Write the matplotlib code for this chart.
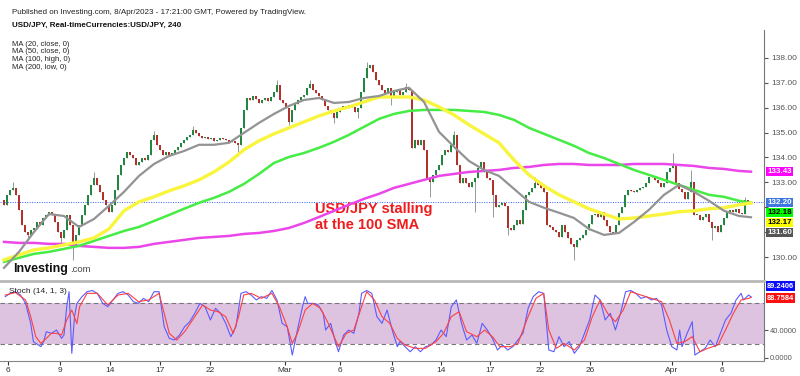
import numpy as np
import matplotlib
matplotlib.use("Agg")
import matplotlib.pyplot as plt
import matplotlib.transforms as mtransforms

plt.rcParams['font.family'] = ['Liberation Sans', 'DejaVu Sans']

# USD/JPY 4h closes, Feb 3 - Apr 7 2023
closes = [
    132.10, 132.50, 132.70, 132.78, 132.50, 131.90, 131.29, 131.01, 130.89, 131.09,
    131.17, 131.41, 131.29, 131.57, 131.69, 131.82, 131.69, 131.41, 131.01, 130.77,
    131.09, 131.69, 131.29, 130.49, 130.89, 131.29, 131.69, 132.10, 132.50, 132.90,
    133.18, 132.90, 132.62, 132.30, 132.10, 131.82, 132.10, 132.70, 133.30, 133.70,
    133.98, 134.22, 134.10, 133.98, 133.70, 133.82, 133.98, 133.90, 134.10, 134.71,
    134.91, 134.51, 134.31, 134.10, 134.22, 134.10, 134.18, 134.31, 134.43, 134.59,
    134.71, 134.83, 134.91, 135.11, 134.99, 134.87, 134.79, 134.83, 134.75, 134.79,
    134.67, 134.71, 134.79, 134.75, 134.71, 134.63, 134.67, 134.59, 134.51, 135.19,
    135.91, 136.39, 136.31, 136.47, 136.35, 136.19, 136.31, 136.39, 136.27, 136.43,
    136.63, 136.92, 136.31, 136.19, 135.99, 135.43, 135.91, 136.15, 136.31, 136.43,
    136.51, 136.80, 136.96, 136.71, 136.59, 136.47, 136.31, 136.07, 135.91, 135.79,
    135.59, 135.83, 135.99, 136.07, 135.99, 136.11, 136.03, 135.83, 135.99, 136.63,
    137.20, 137.60, 137.72, 137.44, 137.12, 136.92, 136.71, 136.59, 136.80, 136.39,
    136.63, 136.71, 136.51, 136.63, 136.84, 136.71, 134.39, 134.71, 134.51, 134.71,
    134.31, 133.18, 133.02, 133.30, 133.50, 133.70, 134.10, 134.31, 134.22, 134.51,
    134.91, 133.70, 132.98, 133.18, 132.98, 132.82, 133.02, 133.18, 133.58, 133.82,
    133.42, 133.18, 133.10, 132.50, 132.02, 132.10, 132.18, 132.06, 131.17, 131.09,
    131.29, 131.49, 131.33, 131.90, 132.50, 132.62, 132.78, 132.98, 132.90, 132.78,
    132.62, 131.29, 131.21, 131.09, 131.01, 130.81, 131.29, 131.01, 130.77, 130.53,
    130.41, 130.69, 130.77, 130.89, 131.09, 131.33, 131.69, 131.73, 131.61, 131.82,
    131.49, 131.25, 131.01, 130.97, 131.29, 131.78, 132.02, 132.50, 132.70, 132.66,
    132.62, 132.70, 132.78, 132.82, 132.98, 133.22, 133.26, 133.10, 132.98, 132.82,
    132.98, 133.42, 133.58, 133.66, 132.98, 132.74, 132.62, 132.34, 132.62, 133.02,
    131.69, 131.69, 131.49, 131.61, 131.73, 131.41, 131.17, 131.25, 131.01, 131.29,
    131.57, 131.82, 131.90, 131.82, 131.94, 131.78, 131.73, 132.30, 132.22, 132.20,
]
first_open = 132.30

# long wicks: bar -> high / low
wick_highs = {3: 133.0, 30: 133.4, 50: 135.05, 63: 135.25, 91: 137.1, 102: 137.1,
              121: 137.85, 134: 137.0, 150: 135.05, 177: 133.2, 223: 134.2,
              229: 133.5, 247: 132.4}
wick_lows = {8: 130.7, 19: 130.55, 23: 129.9, 78: 134.05, 95: 135.3, 110: 135.4,
             118: 135.6, 129: 136.1, 142: 132.4, 157: 131.8, 163: 131.6,
             168: 130.9, 190: 129.9, 236: 130.7}

# moving averages sampled every 5 bars (+ last bar)
ma_bars = list(range(0, 250, 5)) + [249]
ma20 = [129.57, 130.21, 131.01, 131.73, 131.65, 131.21, 131.53, 132.06, 132.62, 133.26,
        133.74, 134.06, 134.26, 134.51, 134.51, 134.59, 134.99, 135.39, 135.75, 136.07,
        136.31, 136.39, 136.19, 136.23, 136.39, 136.47, 136.67, 136.80, 136.23, 135.03,
        134.43, 133.86, 133.50, 133.26, 132.74, 132.22, 131.98, 131.78, 131.57, 131.13,
        130.89, 130.97, 131.41, 131.90, 132.50, 132.90, 132.62, 132.26, 131.86, 131.65,
        131.60]
ma50 = [129.89, 130.09, 130.29, 130.37, 130.49, 130.61, 130.77, 131.13, 131.86, 132.22,
        132.42, 132.66, 132.86, 133.10, 133.42, 133.82, 134.31, 134.67, 134.95, 135.19,
        135.43, 135.67, 135.87, 136.03, 136.23, 136.43, 136.43, 136.43, 136.31, 136.03,
        135.71, 135.31, 134.95, 134.59, 133.90, 133.30, 132.86, 132.50, 132.22, 131.94,
        131.73, 131.53, 131.57, 131.65, 131.73, 131.82, 131.86, 131.94, 131.98, 132.10,
        132.17]
ma100 = [129.81, 129.97, 130.13, 130.21, 130.33, 130.45, 130.65, 130.85, 131.05, 131.21,
         131.45, 131.69, 131.94, 132.18, 132.38, 132.62, 132.94, 133.34, 133.78, 134.02,
         134.18, 134.39, 134.63, 134.91, 135.23, 135.55, 135.75, 135.87, 135.91, 135.91,
         135.91, 135.87, 135.83, 135.71, 135.51, 135.19, 134.95, 134.71, 134.47, 134.18,
         133.98, 133.74, 133.50, 133.30, 133.10, 132.90, 132.70, 132.50, 132.42, 132.26,
         132.18]
ma200 = [130.61, 130.57, 130.57, 130.53, 130.53, 130.45, 130.41, 130.37, 130.37, 130.41,
         130.53, 130.61, 130.69, 130.77, 130.81, 130.85, 130.93, 130.97, 131.05, 131.17,
         131.37, 131.61, 131.86, 132.10, 132.34, 132.54, 132.78, 132.94, 133.10, 133.26,
         133.34, 133.42, 133.46, 133.50, 133.58, 133.62, 133.70, 133.74, 133.74, 133.70,
         133.70, 133.70, 133.74, 133.74, 133.74, 133.70, 133.66, 133.58, 133.54, 133.46,
         133.43]

# stochastic (14, 1, 3): %K and %D samples (bar, value)
stoch_k = [(0.4, 89.9), (2.1, 94.8), (3.8, 97.2), (5.5, 92.3), (7.2, 80.0), (8.9, 50.5),
           (9.8, 23.5), (11.5, 18.6), (12.3, 16.1), (13.2, 23.5), (14.1, 38.2), (15.8, 35.8),
           (17.5, 40.7), (19.2, 28.4), (20.0, 33.3), (20.9, 75.1), (21.7, 97.2), (22.6, 6.3),
           (23.5, 60.4), (24.3, 80.0), (26.0, 89.9), (27.7, 97.2), (29.4, 99.0), (31.1, 94.8),
           (32.9, 80.0), (34.6, 75.1), (36.3, 85.0), (38.0, 94.8), (39.7, 97.2), (41.4, 92.3),
           (43.1, 82.5), (44.8, 80.0), (46.5, 87.4), (48.2, 82.5), (50.0, 97.2), (51.7, 97.2),
           (53.4, 45.6), (55.1, 28.4), (56.8, 26.0), (58.5, 33.3), (60.2, 45.6), (61.9, 53.0),
           (63.6, 65.3), (65.3, 80.0), (67.0, 75.1), (68.8, 55.5), (70.5, 72.7), (72.2, 65.3),
           (73.9, 50.5), (75.6, 30.9), (77.3, 45.6), (79.0, 94.8), (80.7, 97.2), (82.4, 92.3),
           (84.1, 85.0), (85.8, 89.9), (87.6, 87.4), (89.3, 99.0), (91.0, 85.0), (92.7, 50.5),
           (94.4, 45.6), (96.1, 3.8), (97.8, 40.7), (99.5, 75.1), (100.4, 89.9), (101.2, 80.0),
           (102.9, 80.0), (104.7, 77.6), (106.4, 65.3), (107.2, 40.7), (108.9, 50.5),
           (110.6, 21.0), (111.5, 8.7), (113.2, 33.3), (114.9, 40.7), (116.6, 35.8),
           (118.3, 65.3), (119.2, 94.8), (120.9, 99.0), (122.6, 94.8), (124.3, 60.4),
           (126.0, 50.5), (127.7, 70.2), (129.4, 40.7), (131.1, 16.1), (132.0, 23.5),
           (133.7, 16.1), (135.4, 8.7), (137.1, 16.1), (138.8, 8.7), (140.5, 16.1),
           (142.3, 18.6), (144.0, 26.0), (145.7, 40.7), (147.4, 30.9), (149.1, 75.1),
           (150.8, 85.0), (152.5, 50.5), (154.2, 26.0), (156.0, 33.3), (157.6, 21.0),
           (159.4, 50.5), (161.1, 40.7), (162.8, 28.4), (164.5, 11.2), (166.2, 18.6),
           (167.9, 11.2), (169.6, 16.1), (171.3, 26.0), (173.0, 35.8), (174.7, 72.7),
           (176.4, 89.9), (178.2, 97.2), (179.9, 94.8), (181.6, 11.2), (183.3, 8.7),
           (185.0, 30.9), (186.7, 16.1), (188.4, 23.5), (190.1, 6.3), (191.8, 16.1),
           (193.5, 35.8), (195.2, 55.5), (197.0, 92.3), (198.7, 85.0), (200.4, 55.5),
           (202.1, 65.3), (203.8, 40.7), (205.5, 65.3), (207.2, 97.2), (208.9, 99.0),
           (210.6, 94.8), (212.3, 87.4), (214.1, 89.9), (215.8, 85.0), (217.5, 87.4),
           (219.2, 77.6), (220.9, 40.7), (222.6, 16.1), (224.3, 11.2), (225.2, 40.7),
           (226.0, 16.1), (227.7, 35.8), (229.4, 53.0), (230.3, 3.8), (232.0, 8.7),
           (233.7, 13.7), (235.4, 26.0), (237.1, 16.1), (238.8, 35.8), (240.5, 55.5),
           (242.3, 65.3), (244.0, 85.0), (245.7, 94.8), (246.5, 85.0), (248.2, 92.3),
           (249.1, 89.24)]
stoch_d = [(0.4, 92.3), (3.8, 96.0), (7.2, 85.0), (8.9, 60.4), (10.6, 30.9), (12.3, 21.0),
           (14.1, 28.4), (15.8, 35.8), (17.5, 35.8), (19.2, 33.3), (20.9, 55.5), (22.6, 70.2),
           (24.3, 50.0), (25.2, 75.1), (27.7, 94.8), (31.1, 94.8), (34.6, 77.6), (38.0, 92.3),
           (41.4, 94.8), (44.8, 82.5), (48.2, 85.0), (51.7, 94.8), (53.4, 65.3), (55.1, 35.8),
           (57.6, 26.0), (60.2, 38.2), (63.6, 60.4), (66.2, 77.6), (68.8, 70.2), (71.3, 67.7),
           (73.9, 60.4), (76.4, 35.8), (78.2, 60.4), (79.9, 92.3), (82.4, 94.8), (85.8, 87.4),
           (89.3, 94.8), (91.8, 75.1), (94.4, 45.6), (96.1, 21.0), (97.8, 35.8), (100.4, 70.2),
           (102.9, 80.0), (105.5, 72.7), (108.1, 50.5), (111.5, 16.1), (114.1, 35.8),
           (116.6, 40.7), (119.2, 75.1), (120.9, 97.2), (123.5, 85.0), (126.0, 60.4),
           (128.6, 50.5), (131.1, 28.4), (133.7, 18.6), (137.1, 13.7), (140.5, 13.7),
           (144.0, 23.5), (146.5, 35.8), (149.1, 60.4), (151.7, 67.7), (154.2, 38.2),
           (157.6, 30.9), (160.2, 40.7), (162.8, 30.9), (165.3, 16.1), (168.8, 16.1),
           (171.3, 21.0), (174.7, 60.4), (177.3, 87.4), (179.9, 94.8), (181.6, 40.7),
           (184.1, 13.7), (186.7, 21.0), (190.1, 11.2), (193.5, 26.0), (196.1, 60.4),
           (198.7, 85.0), (201.2, 65.3), (203.8, 53.0), (206.4, 70.2), (208.9, 97.2),
           (212.3, 92.3), (215.8, 87.4), (219.2, 82.5), (221.8, 55.5), (224.3, 21.0),
           (226.9, 23.5), (229.4, 30.9), (232.0, 8.7), (234.6, 13.7), (238.0, 18.6),
           (240.5, 40.7), (243.1, 65.3), (245.7, 85.0), (248.2, 87.4), (249.1, 88.76)]

tick_bars = [1.3, 18.7, 35.3, 52, 68.7, 93.7, 112, 129.3, 145.7, 162, 178.7, 195.3, 222.7, 239.3]
tick_labels = ["6", "9", "14", "17", "22", "Mar", "6", "9", "14", "17", "22", "26", "Apr", "6"]

last_price = 132.20

UP = "#23873f"
DOWN = "#b3302c"

fig = plt.figure(figsize=(8, 3.76), dpi=100)
ax = fig.add_axes([0, 1 - 280 / 376, 764 / 800, 250 / 376])
ax2 = fig.add_axes([0, 1 - 361 / 376, 764 / 800, 80 / 376])

# candles
c = np.array(closes)
o = np.r_[first_open, c[:-1]]
idx = np.arange(len(c))
hi = np.maximum(o, c)
lo = np.minimum(o, c)
for k, v in wick_highs.items():
    hi[k] = max(hi[k], v)
for k, v in wick_lows.items():
    lo[k] = min(lo[k], v)
ax.vlines(idx, lo, hi, color="#8e9c92", lw=0.7, zorder=2)
ax.bar(idx, np.maximum(np.abs(c - o), 0.03), bottom=np.minimum(o, c), width=0.7,
       color=np.where(c >= o, UP, DOWN), linewidth=0, zorder=3)

ax.plot(ma_bars, ma200, color="#ea46ea", lw=1.8, zorder=4)
ax.plot(ma_bars, ma100, color="#44ec44", lw=1.8, zorder=4)
ax.plot(ma_bars, ma50, color="#f8f53c", lw=2.4, zorder=4)
ax.plot(ma_bars, ma20, color="#939393", lw=1.6, zorder=5)
ax.axhline(last_price, color="#3060ff", lw=0.7, ls=(0, (1, 1.5)), zorder=1)

ax.set_xlim(-4 / 3, 760 / 3)
ax.set_ylim(129.08, 139.12)
for s in ["top", "left", "bottom"]:
    ax.spines[s].set_visible(False)
ax.spines["right"].set_color("#777777")
ax.set_xticks([])
# 131.00 and 132.00 sit under the value boxes, so they stay blank
ax.set_yticks(range(130, 139))
ax.set_yticklabels(["" if v in (131, 132) else "%.2f" % v for v in range(130, 139)])
ax.yaxis.tick_right()
ax.tick_params(axis="y", labelsize=6, colors="#555555", length=3, pad=2)

# right-hand value boxes
tr = mtransforms.blended_transform_factory(ax.transAxes, ax.transData)
boxes = [("133.43", 133.43, "#ff00ff", "white"),
         ("132.20", last_price, "#3c78e0", "white"),
         ("132.18", last_price - 0.41, "#00ff00", "black"),
         ("132.17", last_price - 0.82, "#ffff00", "black"),
         ("131.60", last_price - 1.21, "#555555", "white")]
for txt, yv, fc, tc in boxes:
    ax.text(1.004, yv, txt, transform=tr, ha="left", va="center", fontsize=5.8,
            fontweight="bold", color=tc, clip_on=False, zorder=10,
            bbox=dict(boxstyle="square,pad=0.14", fc=fc, ec="none"))

ax.text(315 / 764, 133.06 - 1.45, "USD/JPY stalling\nat the 100 SMA", transform=tr,
        color="#ee1c1c", fontsize=10.5, fontweight="bold", va="center", ha="left",
        linespacing=1.25)

# stochastic panel
kx, kv = zip(*stoch_k)
dx, dv = zip(*stoch_d)
ax2.axhspan(20, 80, color="#dec3e0", lw=0, zorder=0)
ax2.axhline(80, color="#777777", lw=0.8, ls=(0, (4, 3)), zorder=1)
ax2.axhline(20, color="#777777", lw=0.8, ls=(0, (4, 3)), zorder=1)
ax2.plot(kx, kv, color="#5b5bff", lw=0.8, zorder=3)
ax2.plot(dx, dv, color="#ff4040", lw=0.8, zorder=3)
ax2.set_xlim(-4 / 3, 760 / 3)
ax2.set_ylim(-5, 113)
ax2.spines["left"].set_visible(False)
ax2.spines["top"].set_color("#b8b8b8")
ax2.spines["top"].set_linewidth(2)
ax2.spines["right"].set_color("#777777")
ax2.spines["bottom"].set_color("#888888")
ax2.set_yticks([0, 40])
ax2.set_yticklabels(["0.0000", "40.0000"])
ax2.yaxis.tick_right()
ax2.tick_params(axis="y", labelsize=5.4, colors="#555555", length=3, pad=1.5)
ax2.set_xticks(tick_bars)
ax2.set_xticklabels(tick_labels)
ax2.tick_params(axis="x", labelsize=6, colors="#333333", length=3, pad=1.5)
ax2.text(0.012, 0.87, "Stoch (14, 1, 3)", transform=ax2.transAxes, fontsize=6,
         color="#222222", va="center")
ax2.text(1.004, (361 - 286) / 80, "89.2406", transform=ax2.transAxes, ha="left",
         va="center", fontsize=5.4, fontweight="bold", color="white", clip_on=False,
         bbox=dict(boxstyle="square,pad=0.14", fc="#0a0aff", ec="none"))
ax2.text(1.004, (361 - 298) / 80, "88.7584", transform=ax2.transAxes, ha="left",
         va="center", fontsize=5.4, fontweight="bold", color="white", clip_on=False,
         bbox=dict(boxstyle="square,pad=0.14", fc="#ff1010", ec="none"))

# header and legend
fig.text(12 / 800, 1 - 13 / 376, "Published on Investing.com, 8/Apr/2023 - 17:21:00 GMT, Powered by TradingView.",
         fontsize=5.8, color="#222222", va="center")
fig.text(12 / 800, 1 - 25 / 376, "USD/JPY, Real-timeCurrencies:USD/JPY, 240",
         fontsize=5.8, fontweight="bold", color="#111111", va="center")
for i, t in enumerate(["MA (20, close, 0)", "MA (50, close, 0)",
                       "MA (100, high, 0)", "MA (200, low, 0)"]):
    fig.text(12 / 800, 1 - (44 + 7.7 * i) / 376, t, fontsize=5.5, color="#222222",
             va="center")

fig.text(13 / 800, 1 - 272 / 376, "Investing", fontsize=9, fontweight="bold",
         color="#111111", va="baseline")
fig.text(70 / 800, 1 - 272 / 376, ".com", fontsize=6.8, color="#444444", va="baseline")

fig.savefig("out.png", dpi=100)
